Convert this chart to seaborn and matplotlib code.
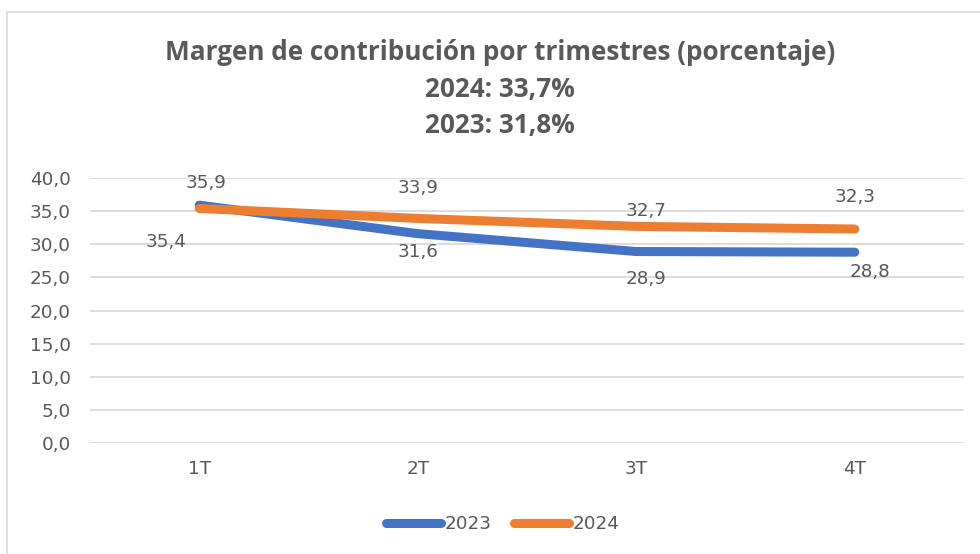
import matplotlib
matplotlib.use("Agg")
import matplotlib.pyplot as plt
import seaborn as sns
import pandas as pd
from matplotlib.patches import Rectangle
from matplotlib.lines import Line2D

# data
quarters = ["1T", "2T", "3T", "4T"]
margin_2023 = [35.9, 31.6, 28.9, 28.8]
margin_2024 = [35.4, 33.9, 32.7, 32.3]
years = ["2023", "2024"]

df = pd.DataFrame({
    "trimestre": quarters * 2,
    "pos": list(range(len(quarters))) * 2,
    "margen": margin_2023 + margin_2024,
    "year": [years[0]] * 4 + [years[1]] * 4,
})

sns.set_style("white")
plt.rcParams["font.family"] = ["DejaVu Sans"]

text_color = "#595959"
palette = {"2023": "#4472C4", "2024": "#ED7D31"}
fs = 13.2

fig = plt.figure(figsize=(9.8, 5.54), dpi=100)
ax = fig.add_axes([90 / 980, 111 / 554, 874 / 980, 265 / 554])

# outer chart border
fig.patches.append(Rectangle((7 / 980, -0.1), 1.2, (554 - 12) / 554 + 0.1,
                             transform=fig.transFigure, fill=False,
                             edgecolor="#D9D9D9", linewidth=1.2))

sns.lineplot(data=df, x="pos", y="margen", hue="year", palette=palette,
             linewidth=6.5, ax=ax, legend=False, sort=False)
for ln in ax.lines:
    ln.set_solid_capstyle("round")
    ln.set_solid_joinstyle("round")

ax.set_xlim(-0.5, 3.5)
ax.set_ylim(0, 40)
ax.set_yticks(range(0, 41, 5))
ax.set_yticklabels([f"{v:.1f}".replace(".", ",") for v in range(0, 41, 5)])
ax.set_xticks(range(len(quarters)))
ax.set_xticklabels(quarters)
ax.tick_params(axis="both", length=0, labelsize=fs, colors=text_color)
ax.tick_params(axis="y", pad=14)
ax.tick_params(axis="x", pad=12)
ax.set_xlabel("")
ax.set_ylabel("")
ax.yaxis.grid(True, color="#D9D9D9", linewidth=1.3)
ax.set_axisbelow(True)
for s in ax.spines.values():
    s.set_visible(False)

# data labels (offsets in points)
off_2023 = [(5, 16), (0, -13), (7, -20), (11, -14)]
off_2024 = [(-24, -24), (0, 22), (7, 11), (0, 23)]
for i, v in enumerate(margin_2023):
    ax.annotate(f"{v:.1f}".replace(".", ","), (i, v), xytext=off_2023[i],
                textcoords="offset points", ha="center", va="center",
                fontsize=fs, color=text_color)
for i, v in enumerate(margin_2024):
    ax.annotate(f"{v:.1f}".replace(".", ","), (i, v), xytext=off_2024[i],
                textcoords="offset points", ha="center", va="center",
                fontsize=fs, color=text_color)

# title
title_lines = ["Margen de contribución por trimestres (porcentaje)",
               "2024: 33,7%", "2023: 31,8%"]
for k, t in enumerate(title_lines):
    fig.text(500 / 980, 1 - (52 + 37 * k) / 554, t, ha="center", va="center",
             fontsize=18.8, fontweight="bold", color=text_color,
             family=["Open Sans", "DejaVu Sans"])

# legend
handles = [Line2D([0], [0], color=palette[y], linewidth=6.5,
                  solid_capstyle="round") for y in years]
fig.legend(handles, years, loc="center", bbox_to_anchor=(503 / 980, 1 - 524 / 554),
           ncol=2, frameon=False, fontsize=fs, labelcolor=text_color,
           handlelength=3.0, handletextpad=0.2, columnspacing=1.2)

fig.savefig("out.png", dpi=100)
